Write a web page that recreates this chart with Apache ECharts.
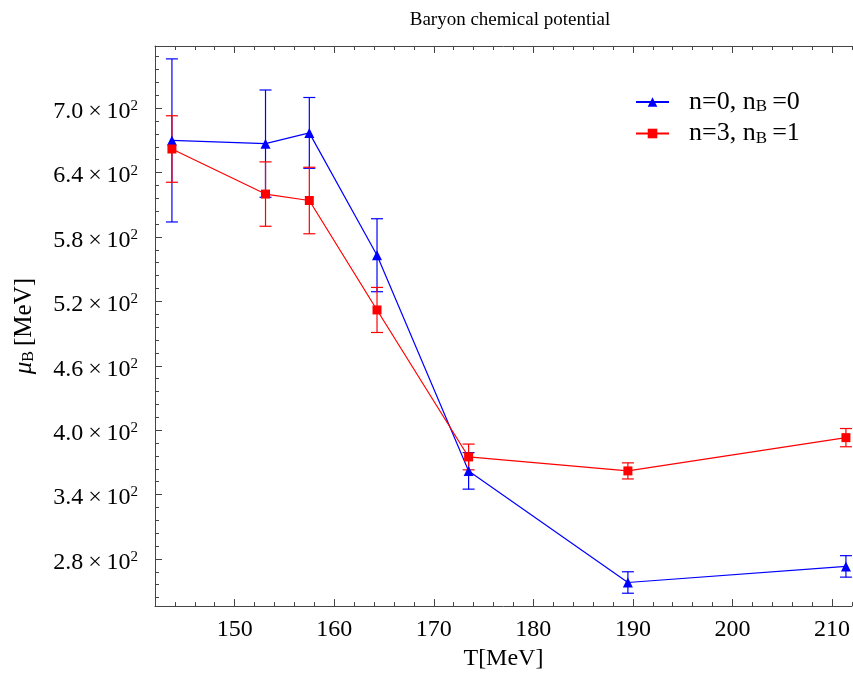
<!DOCTYPE html>
<html>
<head>
<meta charset="utf-8">
<script src="https://cdn.jsdelivr.net/npm/echarts@6/dist/echarts.min.js"></script>
<style>html,body{margin:0;padding:0;background:#fff}#c{width:853px;height:676px}</style>
</head>
<body>
<div id="c"></div>
<script>
// Data
const temperature = [143.7, 153.1, 157.5, 164.3, 173.5, 189.5, 211.4];
const muB_n0 = [670, 667, 677, 563, 362, 258, 273];
const err_n0 = [76, 50, 33, 34, 17, 10, 10];
const muB_n3 = [662, 620, 614, 512, 375, 362, 393];
const err_n3 = [31, 30, 31, 21, 12, 7.5, 8.5];
const xMajorTicks = [150, 160, 170, 180, 190, 200, 210];
const yMajorTicks = [280, 340, 400, 460, 520, 580, 640, 700];

const xMinorTicks = [];
for (let v = 142; v <= 212; v += 2) xMinorTicks.push(v);
const yMinorTicks = [];
for (let v = 244; v <= 748; v += 12) yMinorTicks.push(v);

const FONT = "'Liberation Serif', 'Times New Roman', serif";
const AX = '#444';
const X_MIN = 142, X_MAX = 212, Y_MIN = 236, Y_MAX = 758;

function pts(ys) { return temperature.map((t, i) => [t, ys[i]]); }
function errData(ys, es) { return temperature.map((t, i) => [t, ys[i] - es[i], ys[i] + es[i]]); }

function errSeries(name, ys, es, color) {
  return {
    name: name, type: 'custom', data: errData(ys, es), z: 2, clip: false,
    encode: { x: 0, y: [1, 2] },
    renderItem: function (params, api) {
      const x = api.value(0);
      const lo = api.coord([x, api.value(1)]);
      const hi = api.coord([x, api.value(2)]);
      const w = 6;
      const st = { stroke: color, lineWidth: 1.2 };
      return {
        type: 'group',
        children: [
          { type: 'line', shape: { x1: lo[0], y1: lo[1], x2: hi[0], y2: hi[1] }, style: st },
          { type: 'line', shape: { x1: lo[0] - w, y1: lo[1], x2: lo[0] + w, y2: lo[1] }, style: st },
          { type: 'line', shape: { x1: hi[0] - w, y1: hi[1], x2: hi[0] + w, y2: hi[1] }, style: st }
        ]
      };
    }
  };
}

const chart = echarts.init(document.getElementById('c'), null, { renderer: 'canvas' });

const xBase = { type: 'value', min: X_MIN, max: X_MAX, splitLine: { show: false } };
const yBase = { type: 'value', min: Y_MIN, max: Y_MAX, splitLine: { show: false } };

chart.setOption({
  animation: false,
  backgroundColor: '#fff',
  title: {
    text: 'Baryon chemical potential', left: 505, top: 6, textAlign: 'center',
    textStyle: { fontFamily: FONT, fontSize: 19, fontWeight: 'normal', color: '#000' }
  },
  grid: { left: 155, right: 0, top: 46, bottom: 63, containLabel: false },
  legend: {
    data: ['n=0, nB=0', 'n=3, nB=1'],
    orient: 'vertical', left: 635, top: 89, padding: 0,
    itemWidth: 33, itemHeight: 12, itemGap: 5,
    formatter: function (name) {
      const m = name.match(/n=(\d), nB=(\d)/);
      return '{a|n=' + m[1] + ', n}{b|B}{a|\u2009=' + m[2] + '}';
    },
    textStyle: {
      fontFamily: FONT, color: '#000', padding: [0, 0, 0, 15],
      rich: {
        a: { fontFamily: FONT, fontSize: 26, color: '#000', lineHeight: 26 },
        b: { fontFamily: FONT, fontSize: 17, color: '#000', padding: [10, 0, 0, 0] }
      }
    }
  },
  xAxis: [
    Object.assign({}, xBase, {
      position: 'bottom',
      name: 'T[MeV]', nameLocation: 'middle', nameGap: 37,
      nameTextStyle: { fontFamily: FONT, fontSize: 24, color: '#000' },
      axisLine: { show: true, onZero: false, lineStyle: { color: AX, width: 1 } },
      axisTick: { show: true, inside: true, length: 7, customValues: xMajorTicks, lineStyle: { color: AX } },
      axisLabel: { show: true, customValues: xMajorTicks, margin: 12, fontFamily: FONT, fontSize: 24, color: '#000' }
    }),
    Object.assign({}, xBase, {
      position: 'bottom',
      axisLine: { show: false, onZero: false },
      axisTick: { show: true, inside: true, length: 4, customValues: xMinorTicks, lineStyle: { color: AX } },
      axisLabel: { show: false }
    }),
    Object.assign({}, xBase, {
      position: 'top',
      axisLine: { show: true, onZero: false, lineStyle: { color: AX, width: 1 } },
      axisTick: { show: true, inside: true, length: 7, customValues: xMajorTicks, lineStyle: { color: AX } },
      axisLabel: { show: false }
    }),
    Object.assign({}, xBase, {
      position: 'top',
      axisLine: { show: false, onZero: false },
      axisTick: { show: true, inside: true, length: 4, customValues: xMinorTicks, lineStyle: { color: AX } },
      axisLabel: { show: false }
    })
  ],
  yAxis: [
    Object.assign({}, yBase, {
      position: 'left',
      name: '{m|\u03bc}{b|B}{t|\u2009[MeV]}', nameLocation: 'middle', nameGap: 118, nameRotate: 90,
      nameTextStyle: {
        fontFamily: FONT, fontSize: 24, color: '#000',
        rich: {
          m: { fontFamily: FONT, fontSize: 25, fontStyle: 'italic', color: '#000' },
          b: { fontFamily: FONT, fontSize: 16, color: '#000', padding: [9, 0, 0, 0] },
          t: { fontFamily: FONT, fontSize: 25, color: '#000' }
        }
      },
      axisLine: { show: true, onZero: false, lineStyle: { color: AX, width: 1 } },
      axisTick: { show: true, inside: true, length: 7, customValues: yMajorTicks, lineStyle: { color: AX } },
      axisLabel: {
        show: true, customValues: yMajorTicks, margin: 17, padding: [7, 0, 0, 0],
        formatter: function (v) { return '{a|' + (v / 100).toFixed(1) + '\u2009\u00d7\u200910}{s|2}'; },
        rich: {
          a: { fontFamily: FONT, fontSize: 24, color: '#000' },
          s: { fontFamily: FONT, fontSize: 15, color: '#000', padding: [0, 0, 11, 0] }
        }
      }
    }),
    Object.assign({}, yBase, {
      position: 'left',
      axisLine: { show: false, onZero: false },
      axisTick: { show: true, inside: true, length: 4, customValues: yMinorTicks, lineStyle: { color: AX } },
      axisLabel: { show: false }
    })
  ],
  series: [
    errSeries('err0', muB_n0, err_n0, '#0000ff'),
    {
      name: 'n=0, nB=0', type: 'line', data: pts(muB_n0), z: 3,
      symbol: 'triangle', symbolSize: 10, clip: false,
      lineStyle: { color: '#0000ff', width: 1.2 },
      itemStyle: { color: '#0000ff' }
    },
    errSeries('err3', muB_n3, err_n3, '#ff0000'),
    {
      name: 'n=3, nB=1', type: 'line', data: pts(muB_n3), z: 4,
      symbol: 'rect', symbolSize: 9, clip: false,
      lineStyle: { color: '#ff0000', width: 1.2 },
      itemStyle: { color: '#ff0000' }
    }
  ]
});
</script>
</body>
</html>
